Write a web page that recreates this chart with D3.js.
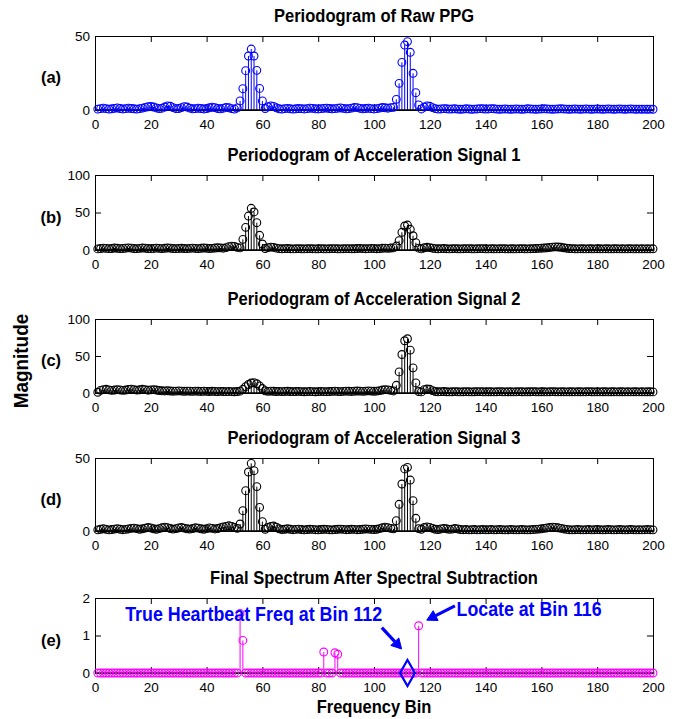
<!DOCTYPE html>
<html>
<head>
<meta charset="utf-8">
<script src="https://cdn.jsdelivr.net/npm/d3@7/dist/d3.min.js"></script>
<style>
  html, body { margin: 0; padding: 0; background: #fff; }
  svg { display: block; }
  text { font-family: "Liberation Sans", Arial, Helvetica, sans-serif; }
</style>
</head>
<body>
<svg id="chart" width="676" height="719"></svg>
<script>
// ---------------- DATA ----------------
const bins = d3.range(1, 201); // frequency bins 1..200
const xTickValues = [0, 20, 40, 60, 80, 100, 120, 140, 160, 180, 200];

const titles = [
  "Periodogram of Raw PPG",
  "Periodogram of Acceleration Signal 1",
  "Periodogram of Acceleration Signal 2",
  "Periodogram of Acceleration Signal 3",
  "Final Spectrum After Spectral Subtraction"
];
const panelLabels = ["(a)", "(b)", "(c)", "(d)", "(e)"];
const yMax = [50, 100, 100, 50, 2];
const yTickValues = [[0, 50], [0, 50, 100], [0, 50, 100], [0, 50], [0, 1, 2]];

const rawPPG = [
  0.6,0.9,1.2,0.9,0.6,0.8,1.1,1.4,1.0,0.7,
  0.9,1.2,1.0,0.8,0.6,0.9,1.3,1.8,2.2,2.4,
  2.0,1.4,0.9,1.2,2.0,2.8,2.5,1.6,0.9,1.0,
  1.6,2.3,2.0,1.3,0.8,0.9,1.2,1.0,0.7,1.0,
  1.5,1.9,1.6,1.0,0.8,1.2,1.8,1.5,0.9,0.6,
  1.4,6.1,14.4,26.6,36.5,41.2,36.5,26.8,14.6,6.1,
  1.0,2.2,2.8,2.4,1.5,0.8,0.6,0.9,1.1,0.8,
  0.6,0.8,1.0,0.9,0.7,0.9,1.2,1.1,0.8,0.7,
  0.9,1.1,1.3,1.0,0.8,0.9,1.2,1.4,1.1,0.8,
  0.9,1.3,1.8,1.6,1.1,0.8,1.0,1.2,0.9,0.7,
  0.9,1.3,1.7,1.5,1.2,1.6,1.8,7.2,18.0,32.2,
  43.9,46.2,39.0,24.8,11.7,3.4,0.7,2.0,2.8,2.5,
  1.6,0.9,0.6,0.7,0.9,0.8,0.6,0.7,0.8,0.6,
  0.5,0.6,0.8,0.7,0.5,0.6,0.7,0.9,0.8,0.6,
  0.7,0.9,0.8,0.6,0.5,0.6,0.7,0.6,0.5,0.6,
  0.7,0.6,0.5,0.6,0.8,0.7,0.6,0.5,0.6,0.7,
  0.8,0.7,0.6,0.5,0.6,0.7,0.8,0.7,0.6,0.5,
  0.6,0.7,0.6,0.5,0.6,0.7,0.6,0.5,0.6,0.7,
  0.6,0.5,0.6,0.7,0.6,0.5,0.6,0.7,0.6,0.5,
  0.6,0.7,0.6,0.5,0.6,0.5,0.6,0.5,0.6,0.5
];

const accel1 = [
  1.5,2.0,2.5,2.2,1.8,2.0,2.6,2.3,1.9,2.1,
  2.4,2.8,2.5,2.0,1.8,2.2,2.6,2.4,2.0,1.8,
  2.1,2.5,2.2,1.9,2.3,2.7,2.4,2.0,1.8,2.1,
  2.3,2.0,1.8,2.2,2.5,2.1,1.9,2.3,2.6,2.4,
  2.0,2.2,2.6,3.0,2.8,2.4,3.2,4.5,5.2,4.8,
  3.5,2.8,14.2,30.2,45.3,55.6,50.7,36.4,19.6,8.0,
  2.0,3.2,3.8,3.5,2.5,1.8,1.6,1.8,2.0,1.7,
  1.5,1.7,1.9,1.6,1.5,1.7,1.9,1.7,1.5,1.6,
  1.8,1.6,1.5,1.7,1.9,1.8,1.6,1.5,1.7,1.9,
  1.8,1.6,1.7,2.0,2.2,1.9,1.7,1.8,2.1,1.9,
  1.7,1.9,2.3,2.5,2.2,2.6,2.8,5.3,12.4,23.6,
  32.0,33.3,27.6,19.0,9.8,2.5,1.5,3.0,3.6,3.2,
  2.4,1.8,1.6,1.8,2.0,1.7,1.5,1.7,1.9,1.6,
  1.5,1.7,1.9,1.8,1.6,1.5,1.7,1.9,1.8,1.6,
  1.5,1.7,1.6,1.5,1.7,1.8,1.6,1.5,1.7,1.6,
  1.5,1.7,1.8,1.6,1.5,1.7,1.9,2.0,2.2,2.4,
  2.6,3.0,3.4,3.8,4.2,4.0,3.6,3.0,2.4,2.0,
  1.8,1.6,1.5,1.7,1.6,1.5,1.7,1.6,1.5,1.7,
  1.6,1.5,1.7,1.6,1.5,1.6,1.7,1.5,1.6,1.5,
  1.6,1.7,1.5,1.6,1.5,1.6,1.5,1.6,1.5,1.6
];

const accel2 = [
  1.0,3.5,4.5,5.0,4.2,3.6,4.0,4.6,4.1,3.5,
  4.0,4.8,5.2,4.6,3.9,4.3,5.0,4.5,3.8,4.2,
  4.6,4.0,3.4,3.0,2.8,3.1,2.7,2.4,2.6,2.9,
  2.5,2.3,2.6,2.4,2.2,2.5,2.3,2.1,2.4,2.2,
  2.0,2.3,2.1,1.9,2.2,2.0,1.8,2.1,1.9,1.7,
  2.0,2.5,5.0,8.5,11.5,13.5,14.0,12.5,9.5,6.0,
  3.0,2.2,2.6,2.3,2.0,2.2,1.9,2.1,2.3,2.0,
  1.8,2.0,2.2,1.9,1.7,1.9,2.1,1.8,1.7,1.9,
  2.1,1.9,1.8,2.0,2.2,2.4,2.1,1.9,2.2,2.5,
  2.3,2.1,2.4,2.7,2.5,2.2,2.6,2.9,2.6,2.3,
  2.6,3.2,4.0,4.5,4.2,3.5,2.8,10.4,28.5,52.0,
  70.6,73.3,58.0,34.0,13.6,2.0,1.5,4.5,5.4,5.0,
  3.2,2.0,1.6,1.8,2.0,1.7,1.5,1.7,1.9,1.6,
  1.5,1.7,1.8,1.6,1.5,1.7,1.9,1.8,1.6,1.5,
  1.7,1.6,1.5,1.7,1.8,1.6,1.5,1.7,1.6,1.5,
  1.6,1.8,1.7,1.5,1.6,1.7,1.8,1.6,1.5,1.7,
  1.6,1.5,1.7,1.8,1.6,1.5,1.7,1.6,1.5,1.6,
  1.7,1.5,1.6,1.7,1.5,1.6,1.8,1.7,1.5,1.6,
  1.5,1.7,1.6,1.5,1.7,1.6,1.5,1.6,1.7,1.5,
  1.6,1.5,1.7,1.6,1.5,1.6,1.5,1.7,1.6,1.5
];

const accel3 = [
  0.8,1.2,1.5,1.1,0.8,1.0,1.3,1.6,1.2,0.9,
  1.1,1.4,1.8,2.0,1.6,1.2,1.5,2.0,2.4,2.1,
  1.5,1.2,1.6,2.2,2.6,2.3,1.7,1.3,1.6,2.1,
  2.4,2.0,1.5,1.3,1.7,2.2,2.0,1.5,1.2,1.6,
  2.1,1.8,1.4,1.7,2.3,2.8,3.2,3.6,3.2,2.5,
  1.8,4.8,13.9,27.6,40.4,46.3,41.3,30.4,16.2,6.4,
  1.2,2.4,3.2,3.4,2.6,1.5,1.0,1.2,1.5,1.2,
  0.9,1.1,1.3,1.0,0.8,1.0,1.2,1.1,0.9,0.8,
  1.0,1.2,1.1,0.9,0.8,1.0,1.2,1.3,1.1,0.9,
  1.0,1.2,1.1,0.9,1.0,1.2,1.4,1.3,1.1,1.0,
  1.2,1.6,2.2,2.6,2.3,1.8,1.5,7.1,18.3,32.2,
  42.5,43.6,34.9,20.8,8.7,1.6,1.2,2.4,2.8,2.5,
  1.8,1.2,1.0,1.4,1.8,1.5,1.1,1.3,1.7,1.4,
  1.0,0.9,1.0,0.8,0.9,1.0,0.8,0.9,1.0,0.8,
  0.9,1.0,0.8,0.9,1.0,0.9,0.8,0.9,1.0,0.9,
  0.8,0.9,1.0,0.9,0.8,0.9,1.0,1.1,1.3,1.5,
  1.8,2.1,2.4,2.6,2.5,2.2,1.8,1.4,1.1,0.9,
  0.8,0.9,1.0,0.9,0.8,0.9,1.0,0.8,0.9,1.0,
  0.9,0.8,0.9,1.0,0.9,0.8,0.9,1.0,0.9,0.8,
  0.9,1.0,0.9,0.8,0.9,0.8,0.9,1.0,0.9,0.8
];

const finalSpectrum = [
  0,0,0,0,0,0,0,0,0,0,
  0,0,0,0,0,0,0,0,0,0,
  0,0,0,0,0,0,0,0,0,0,
  0,0,0,0,0,0,0,0,0,0,
  0,0,0,0,0,0,0,0,0,0,
  0,1.59,0.87,0,0,0,0,0,0,0,
  0,0,0,0,0,0,0,0,0,0,
  0,0,0,0,0,0,0,0,0,0,
  0,0.56,0,0,0,0.54,0.50,0,0,0,
  0,0,0,0,0,0,0,0,0,0,
  0,0,0,0,0,0,0,0,0,0,
  0,0,0,0,0,1.26,0,0,0,0,
  0,0,0,0,0,0,0,0,0,0,
  0,0,0,0,0,0,0,0,0,0,
  0,0,0,0,0,0,0,0,0,0,
  0,0,0,0,0,0,0,0,0,0,
  0,0,0,0,0,0,0,0,0,0,
  0,0,0,0,0,0,0,0,0,0,
  0,0,0,0,0,0,0,0,0,0,
  0,0,0,0,0,0,0,0,0,0
];

const seriesList = [rawPPG, accel1, accel2, accel3, finalSpectrum];
const seriesColors = ["#0000ff", "#000000", "#000000", "#000000", "#ff00ff"];

const trueBin = 112;
const trueLabel = "True Heartbeat Freq at Bin 112";
const locateLabel = "Locate at Bin 116";
const xLabel = "Frequency Bin";
const yLabel = "Magnitude";

// ---------------- LAYOUT ----------------
const svg = d3.select("#chart");
const left = 95, right = 653;
const panelTops = [36, 175, 319, 458, 598];
const panelBottoms = [110, 250, 393, 531, 673];
const x = d3.scaleLinear().domain([0, 200]).range([left, right]);

function squeezeText(sel, width) {
  sel.attr("textLength", width).attr("lengthAdjust", "spacingAndGlyphs");
}

// measure natural width of title (a) to derive horizontal compression
const probe = svg.append("text").attr("font-size", 17.5).attr("font-weight", "bold").text(titles[0]);
const compress = 200 / probe.node().getComputedTextLength();
probe.remove();

function boldText(g, str, size, cx, y, anchorMid = true) {
  const t = g.append("text").attr("font-size", size).attr("font-weight", "bold").text(str);
  const w = t.node().getComputedTextLength() * compress;
  t.attr("x", anchorMid ? cx - w / 2 : cx).attr("y", y);
  squeezeText(t, w);
  return t;
}

const ys = [];
seriesList.forEach((data, i) => {
  const top = panelTops[i], bot = panelBottoms[i];
  const y = d3.scaleLinear().domain([0, yMax[i]]).range([bot, top]);
  ys.push(y);
  const g = svg.append("g");

  // axes (box with inward ticks)
  const axB = d3.axisBottom(x).tickValues(xTickValues).tickSizeInner(-6).tickSizeOuter(0).tickPadding(9);
  const axT = d3.axisTop(x).tickValues(xTickValues).tickSizeInner(-6).tickSizeOuter(0).tickFormat("");
  const axL = d3.axisLeft(y).tickValues(yTickValues[i]).tickSizeInner(-6).tickSizeOuter(0).tickPadding(5).tickFormat(d3.format("d"));
  const axR = d3.axisRight(y).tickValues(yTickValues[i]).tickSizeInner(-6).tickSizeOuter(0).tickFormat("");

  [[axB, `translate(0,${bot})`], [axT, `translate(0,${top})`], [axL, `translate(${left},0)`], [axR, `translate(${right},0)`]]
    .forEach(([ax, tr]) => {
      const a = g.append("g").attr("transform", tr).call(ax);
      a.attr("font-family", null).attr("font-size", null);
      a.selectAll("text").attr("font-size", 13.5).attr("fill", "#000");
      a.selectAll("line").attr("stroke", "#000");
      a.select(".domain").attr("stroke", "#000").attr("stroke-width", 1);
    });

  const pts = bins.map((b, k) => ({ b, v: data[k] }));
  const col = seriesColors[i];

  // stems
  g.append("g").selectAll("line").data(pts.filter(d => d.v > 0)).join("line")
    .attr("x1", d => x(d.b)).attr("x2", d => x(d.b))
    .attr("y1", y(0)).attr("y2", d => y(d.v))
    .attr("stroke", col).attr("stroke-width", 1);

  // baseline
  g.append("line").attr("x1", x(0)).attr("x2", x(200)).attr("y1", y(0)).attr("y2", y(0))
    .attr("stroke", "#000").attr("stroke-width", 1.5);

  // markers
  g.append("g").selectAll("circle").data(pts).join("circle")
    .attr("cx", d => x(d.b)).attr("cy", d => y(d.v)).attr("r", 3.9)
    .attr("fill", "none").attr("stroke", col).attr("stroke-width", 1.1);

  // title
  boldText(g, titles[i], 17.5, (left + right) / 2, top - 14);
  // panel label
  g.append("text").attr("x", 51).attr("y", (top + bot) / 2 + 10)
    .attr("text-anchor", "middle").attr("font-size", 16.5).attr("font-weight", "bold").text(panelLabels[i]);
});

// axis labels
boldText(svg, xLabel, 17.5, (left + right) / 2, 713);
const ylab = svg.append("g").attr("transform", "translate(28,361) rotate(-90)");
boldText(ylab, yLabel, 20, 0, 0);

// ---------------- ANNOTATIONS (panel e) ----------------
const ye = ys[4];
const blue = "#0000ff";
// diamond at true heartbeat bin
svg.append("path")
  .attr("d", "M0,-13 L7.5,0 L0,13 L-7.5,0 Z")
  .attr("transform", `translate(${x(trueBin)},${ye(0)})`)
  .attr("fill", "none").attr("stroke", blue).attr("stroke-width", 2.2);

svg.append("text").attr("x", x(10.8)).attr("y", ye(1.39))
  .attr("font-size", 20).attr("font-weight", "bold").attr("fill", blue)
  .attr("textLength", 257).attr("lengthAdjust", "spacingAndGlyphs").text(trueLabel);
svg.append("text").attr("x", x(129.6)).attr("y", ye(1.53))
  .attr("font-size", 20).attr("font-weight", "bold").attr("fill", blue)
  .attr("textLength", 145).attr("lengthAdjust", "spacingAndGlyphs").text(locateLabel);

function arrow(x1, y1, x2, y2) {
  const ang = Math.atan2(y2 - y1, x2 - x1);
  const hl = 10, hw = 5.5;
  const bx = x2 - hl * Math.cos(ang), by = y2 - hl * Math.sin(ang);
  svg.append("line").attr("x1", x1).attr("y1", y1).attr("x2", bx).attr("y2", by)
    .attr("stroke", blue).attr("stroke-width", 3.2);
  const px = -Math.sin(ang) * hw, py = Math.cos(ang) * hw;
  svg.append("path")
    .attr("d", `M${x2},${y2} L${bx + px},${by + py} L${bx - px},${by - py} Z`)
    .attr("fill", blue).attr("stroke", blue).attr("stroke-width", 1);
}
arrow(x(102.8), ye(1.21), x(109.9), ye(0.64));
arrow(x(129.0), ye(1.79), x(118.9), ye(1.41));
</script>
</body>
</html>
